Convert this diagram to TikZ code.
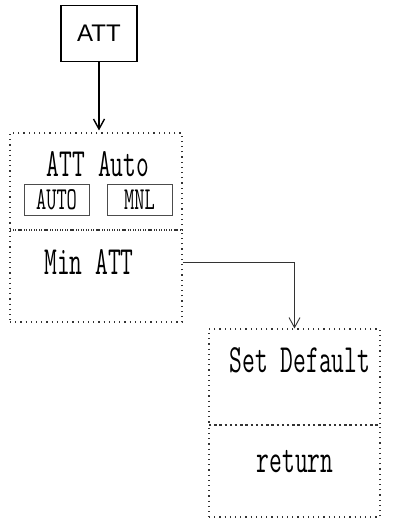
\documentclass[tikz,border=0pt]{standalone}
\usepackage{fontspec}
\usetikzlibrary{arrows.meta}
\newfontfamily\dotfont[FakeStretch=0.62]{Latin Modern Mono}
\newfontfamily\dotnarrow[FakeStretch=0.62]{Latin Modern Mono}
\newfontfamily\sansf{Liberation Sans}
\tikzset{
  dotbox/.style={draw=black!80, line width=1.1pt, dash pattern=on 1.2pt off 4pt, rectangle, inner sep=0pt},
  lbl/.style={font=\dotfont\fontsize{40}{44}\selectfont, inner sep=0pt, text height=23pt, text depth=0pt},
  btn/.style={draw=black!70, line width=0.9pt, rectangle, inner sep=0pt, minimum width=65pt, minimum height=31pt, text height=19pt, text depth=0pt, font=\dotnarrow\fontsize{32}{34}\selectfont},
  keybox/.style={draw, line width=1.5pt, rectangle, inner sep=0pt, minimum width=76pt, minimum height=56pt, font=\sansf\fontsize{24}{26}\selectfont},
  arr/.style={line width=1.4pt, -{Straight Barb[length=10pt,width=11pt]}},
  conn/.style={line width=0.9pt, draw=black!80, -{Straight Barb[length=10pt,width=11pt]}}
}
\begin{document}
\begin{tikzpicture}[x=1pt,y=-1pt]
\useasboundingbox (0,0) rectangle (393,525);
\node[keybox] (att) at (99,33.5) {ATT};
\node[dotbox, minimum width=172pt, minimum height=97pt] (autoT) at (96,181.5) {};
\node[dotbox, minimum width=172pt, minimum height=92pt] (minatt) at (96,276) {};
\node[lbl] (attauto) at (98,165) {ATT Auto};
\node[btn] (auto) at (56.5,200) {AUTO};
\node[btn] (mnl) at (139.5,200) {MNL};
\node[lbl] (minattl) at (89,263) {Min ATT};
\node[dotbox, minimum width=171pt, minimum height=96pt] (setdef) at (294.5,377) {};
\node[dotbox, minimum width=171pt, minimum height=92pt] (ret) at (294.5,471) {};
\node[lbl] (setdefl) at (300,361) {Set Default};
\node[lbl] (retl) at (295,461) {return};
\draw[arr] (att.south) -- ([yshift=2pt]att.south |- autoT.north);
\draw[conn] ([yshift=-33pt]minatt.north east) -| (setdef.north);
\end{tikzpicture}
\end{document}
